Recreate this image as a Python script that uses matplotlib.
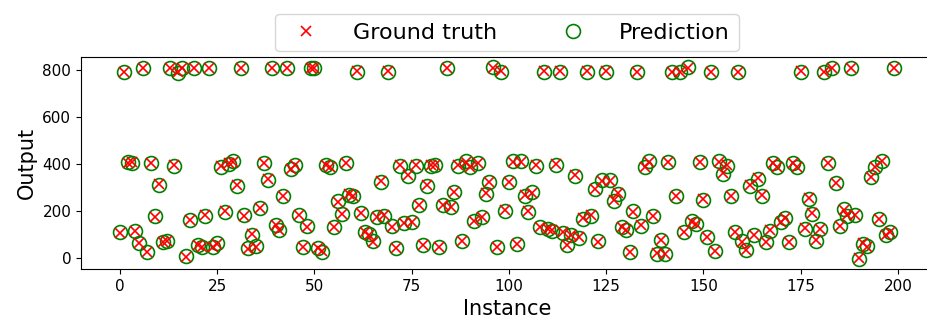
import numpy as np
import matplotlib
matplotlib.use("Agg")
import matplotlib.pyplot as plt

# ground truth values, instance 0..199
truth = [
    108, 795, 405, 410, 115, 65, 810, 27, 405, 176,
    315, 68, 72, 810, 395, 793, 810, 6, 162, 810,
    55, 45, 183, 810, 45, 60, 393, 200, 403, 410,
    310, 810, 180, 40, 102, 48, 215, 405, 335, 810,
    142, 118, 265, 810, 381, 396, 183, 48, 133, 810,
    810, 41, 28, 396, 389, 133, 240, 187, 405, 272,
    265, 797, 190, 112, 100, 70, 176, 328, 183, 797,
    133, 42, 396, 148, 353, 155, 396, 226, 55, 311,
    396, 396, 48, 226, 811, 218, 282, 396, 74, 410,
    389, 158, 405, 176, 275, 325, 812, 48, 797, 204,
    325, 410, 58, 410, 268, 200, 278, 396, 133, 797,
    123, 119, 400, 797, 110, 55, 100, 353, 88, 169,
    797, 183, 295, 70, 330, 797, 330, 247, 275, 133,
    119, 27, 197, 795, 140, 389, 410, 180, 20, 75,
    17, 410, 793, 265, 793, 112, 812, 155, 145, 410,
    250, 90, 795, 30, 410, 362, 396, 265, 112, 795,
    70, 35, 310, 98, 340, 268, 70, 119, 405, 390,
    155, 169, 70, 403, 390, 797, 126, 254, 190, 75,
    125, 793, 405, 810, 321, 137, 204, 183, 810, 183,
    0, 62, 48, 346, 390, 165, 414, 98, 112, 810,
]

# model predictions (almost on top of the truth)
pred = [
    110, 793, 408, 407, 117, 63, 812, 25, 403, 178,
    313, 70, 74, 808, 393, 790, 812, 8, 160, 808,
    57, 47, 181, 808, 47, 62, 390, 198, 400, 412,
    308, 808, 182, 42, 100, 50, 213, 403, 333, 808,
    140, 120, 263, 808, 379, 398, 185, 46, 135, 808,
    812, 43, 26, 398, 386, 131, 242, 189, 403, 270,
    263, 795, 192, 110, 102, 72, 174, 326, 181, 795,
    135, 44, 394, 150, 351, 153, 394, 224, 57, 309,
    394, 398, 46, 224, 809, 216, 280, 394, 72, 412,
    387, 156, 407, 174, 273, 323, 814, 46, 795, 202,
    323, 412, 60, 412, 266, 198, 280, 394, 131, 795,
    125, 117, 398, 795, 108, 57, 98, 351, 86, 167,
    795, 181, 293, 72, 332, 795, 332, 245, 273, 131,
    121, 25, 199, 793, 138, 387, 412, 178, 18, 77,
    15, 408, 791, 263, 791, 110, 814, 157, 143, 408,
    248, 88, 793, 28, 412, 358, 394, 263, 110, 793,
    72, 33, 308, 96, 338, 266, 68, 117, 407, 388,
    153, 171, 68, 405, 388, 795, 124, 252, 188, 73,
    123, 791, 407, 812, 319, 135, 210, 181, 812, 185,
    -4, 60, 50, 344, 388, 167, 412, 96, 110, 812,
]

instances = np.arange(len(truth))

fig = plt.figure(figsize=(9.27, 3.22), dpi=100)
ax = fig.add_axes([81 / 927, 53 / 322, 852 / 927, 212 / 322])

ax.plot(instances, truth, 'x', color='red', markersize=7, markeredgewidth=1.2,
        label='Ground truth', zorder=3)
ax.plot(instances, pred, 'o', markerfacecolor='none', markeredgecolor='green',
        markersize=10, markeredgewidth=1.2, label='Prediction', zorder=2)

ax.set_xlim(-10, 209)
ax.set_ylim(-47, 857)
ax.set_xticks([0, 25, 50, 75, 100, 125, 150, 175, 200])
ax.set_yticks([0, 200, 400, 600, 800])
ax.tick_params(labelsize=11)
ax.set_xlabel('Instance', fontsize=15)
ax.set_ylabel('Output', fontsize=15)

ax.legend(loc='lower center', bbox_to_anchor=(0.5, 1.0), ncol=2, fontsize=16,
          borderaxespad=0.25, handletextpad=1.1, columnspacing=2.4)

fig.savefig('out.png', dpi=100)
